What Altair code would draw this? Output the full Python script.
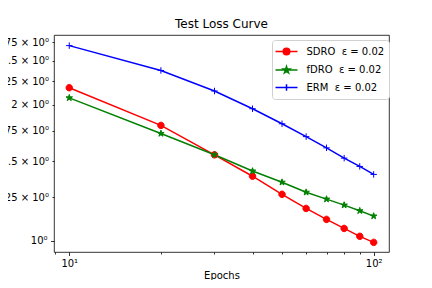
import altair as alt
import pandas as pd
import numpy as np

epochs = [10, 20, 30, 40, 50, 60, 70, 80, 90, 100]
sdro = [2.18, 1.80, 1.55, 1.39, 1.268, 1.18, 1.116, 1.066, 1.024, 0.993]
fdro = [2.07, 1.727, 1.55, 1.427, 1.348, 1.281, 1.237, 1.20, 1.166, 1.135]
erm = [2.70, 2.38, 2.144, 1.959, 1.815, 1.70, 1.606, 1.524, 1.461, 1.403]

series = ["SDRO", "fDRO", "ERM"]
labels = ["SDRO\u00a0\u00a0ε = 0.02", "fDRO\u00a0\u00a0ε = 0.02", "ERM\u00a0\u00a0ε = 0.02"]
colors = ["#ff0000", "#008000", "#0000ff"]

x_ticks = [9, 10, 20, 30, 40, 50, 60, 70, 80, 90, 100]
y_ticks = [1.0, 1.25, 1.5, 1.75, 2.0, 2.25, 2.5, 2.75]
y_tick_labels = ["10⁰", "1.25 × 10⁰", "1.5 × 10⁰", "1.75 × 10⁰", "2 × 10⁰",
                 "2.25 × 10⁰", "2.5 × 10⁰", "2.75 × 10⁰"]

rows = []
for name, lab, vals in zip(series, labels, [sdro, fdro, erm]):
    for e, v in zip(epochs, vals):
        rows.append({"epoch": e, "loss": v, "series": lab})
df = pd.DataFrame(rows)


def star_path(r_out):
    pts = []
    for k in range(10):
        ang = np.deg2rad(90 + 36 * k)
        r = r_out if k % 2 == 0 else r_out * 0.381966
        pts.append((r * np.cos(ang), -r * np.sin(ang)))
    return "M" + "L".join(f"{x:.3f},{y:.3f}" for x, y in pts) + "Z"


def circle_path(r):
    return f"M{r},0A{r},{r},0,1,1,{-r},0A{r},{r},0,1,1,{r},0Z"


def plus_path(r):
    return f"M{-r},0L{r},0M0,{-r}L0,{r}"


marker_paths = [circle_path(1), star_path(1.05), plus_path(1)]

L = 1.833
m = 0.55
line = f"M{-L},0L{L},0"
legend_paths = [line + circle_path(m), line + star_path(m * 1.05), line + plus_path(m)]

xscale = alt.Scale(type="log", domain=[8.91, 112.3], nice=False)
yscale = alt.Scale(type="log", domain=[0.9456, 2.85], nice=False)

xlab = "datum.value == 10 ? '10¹' : datum.value == 100 ? '10²' : ''"
ylab = " : ".join(f"datum.value == {v} ? '{t}'" for v, t in zip(y_ticks, y_tick_labels)) + " : ''"

xaxis = alt.Axis(values=x_ticks, labelExpr=xlab, title="Epochs", grid=False, domain=False,
                 tickColor="black", tickWidth=0.8,
                 tickSize={"condition": {"test": "datum.value == 10 || datum.value == 100", "value": 3.5}, "value": 2},
                 labelFont="DejaVu Sans", labelFontSize=10, labelColor="black", labelPadding=3,
                 titleFont="DejaVu Sans", titleFontSize=10, titleFontWeight="normal", titleColor="black",
                 titleBaseline="alphabetic", titleY=26, labelFlush=False)
yaxis = alt.Axis(values=y_ticks, labelExpr=ylab, title=None, grid=False, domain=False,
                 tickColor="black", tickWidth=0.8,
                 tickSize={"condition": {"test": "datum.value == 1", "value": 3.5}, "value": 2},
                 labelFont="DejaVu Sans", labelFontSize=10, labelColor="black", labelPadding=3.5,
                 labelFlush=False)

legend = alt.Legend(title=None, orient="none", legendX=218, legendY=5,
                    labelFont="DejaVu Sans", labelFontSize=10, labelColor="black",
                    symbolSize=144, symbolStrokeWidth=1.5, symbolOpacity=1,
                    rowPadding=4.5, padding=4.5, labelOffset=13, symbolOffset=3,
                    strokeColor="#d0d0d0", fillColor="white", cornerRadius=3)

base = alt.Chart(df).encode(
    x=alt.X("epoch:Q", scale=xscale, axis=xaxis),
    y=alt.Y("loss:Q", scale=yscale, axis=yaxis),
)

lines = base.mark_line(strokeWidth=1.5, clip=True).encode(
    color=alt.Color("series:N", scale=alt.Scale(domain=labels, range=colors), legend=None),
    detail="series:N",
)

points = base.mark_point(filled=True, opacity=1, strokeWidth=1, size=42, clip=True).encode(
    color=alt.Color("series:N", scale=alt.Scale(domain=labels, range=colors), legend=None),
    stroke=alt.Stroke("series:N", scale=alt.Scale(domain=labels, range=colors), legend=None),
    shape=alt.Shape("series:N", scale=alt.Scale(domain=labels, range=marker_paths), legend=None),
)

legend_layer = base.mark_point(filled=True, opacity=0, size=1).encode(
    color=alt.Color("series:N", scale=alt.Scale(domain=labels, range=colors), legend=legend),
    stroke=alt.Stroke("series:N", scale=alt.Scale(domain=labels, range=colors), legend=legend),
    shape=alt.Shape("series:N", scale=alt.Scale(domain=labels, range=legend_paths), legend=legend),
)

chart = alt.layer(lines, points, legend_layer).resolve_scale(
    color="independent", stroke="independent", shape="independent"
).properties(
    width=335, height=217,
    title=alt.TitleParams("Test Loss Curve", font="DejaVu Sans", fontSize=12, fontWeight="normal",
                          color="black", offset=4, anchor="middle"),
    padding={"left": 46, "top": 27, "right": 35, "bottom": 28},
    autosize=alt.AutoSizeParams(type="none"),
    background="white",
).configure_view(stroke="black", strokeWidth=0.8)

chart.save("out.html", embed_options={"renderer": "svg", "actions": False})
